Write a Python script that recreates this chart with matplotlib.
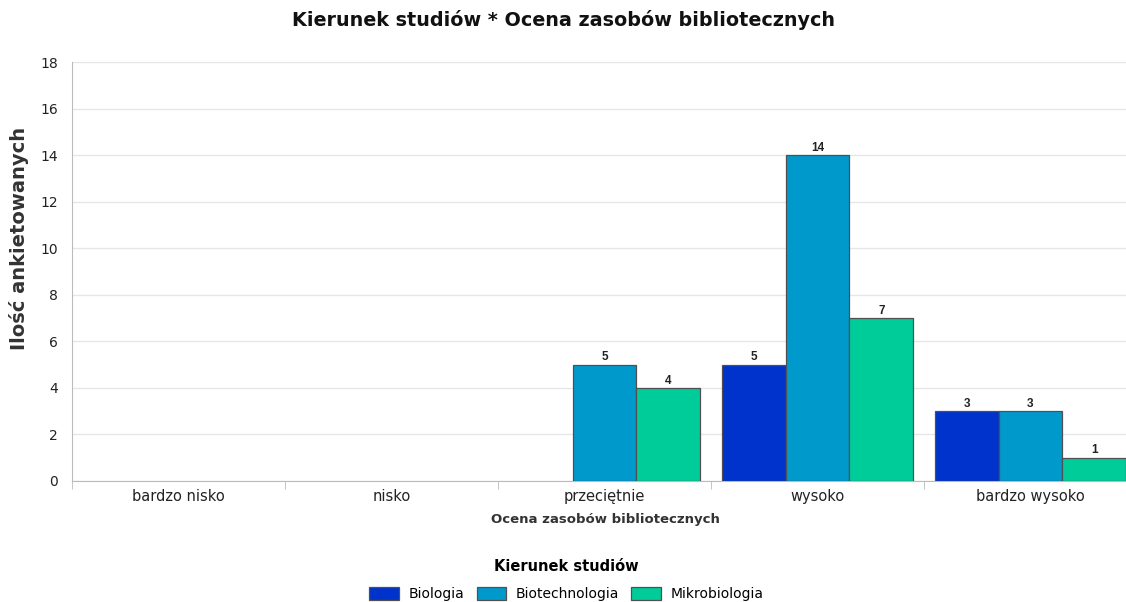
import numpy as np
import matplotlib
matplotlib.use("Agg")
import matplotlib.pyplot as plt
from matplotlib.patches import Patch

# data
categories = ["bardzo nisko", "nisko", "przeciętnie", "wysoko", "bardzo wysoko"]
series_names = ["Biologia", "Biotechnologia", "Mikrobiologia"]
biologia = [0, 0, 0, 5, 3]
biotechnologia = [0, 0, 5, 14, 3]
mikrobiologia = [0, 0, 4, 7, 1]
colors = ["#0033cc", "#0099cc", "#00cc99"]

title = "Kierunek studiów * Ocena zasobów bibliotecznych"
x_label = "Ocena zasobów bibliotecznych"
y_label = "Ilość ankietowanych"
legend_title = "Kierunek studiów"

edge = "#505050"
fig = plt.figure(figsize=(11.26, 6.02), dpi=100)
ax = fig.add_axes([72 / 1126, 1 - 481 / 602, (1126 - 72) / 1126, (481 - 62) / 602])

x = np.arange(len(categories))
width = 0.3
all_series = [biologia, biotechnologia, mikrobiologia]
for i, (name, vals, col) in enumerate(zip(series_names, all_series, colors)):
    vals = np.array(vals)
    pos = x + (i - 1) * width
    lw = [0.9 if v > 0 else 0 for v in vals]
    bars = ax.bar(pos, vals, width, color=col, edgecolor=edge,
                  linewidth=lw, zorder=3)
    labels = [str(v) if v > 0 else "" for v in vals]
    ax.bar_label(bars, labels=labels, padding=1, fontsize=8.5,
                 fontweight="bold", color="#222222", family="Liberation Sans")

ax.set_yticks(range(0, 19, 2))
ax.set_xticks(x)
ax.set_xticklabels(categories)
ax.set_xticks(np.arange(-0.5, len(categories) - 1, 1.0), minor=True)
# the original plot area runs a bit past the right edge of the image
ax.set_xlim(-0.5, -0.5 + 1054 / 213)
ax.set_ylim(0, 18)
ax.tick_params(axis="x", which="major", length=0, pad=6, labelsize=10.5,
               labelcolor="#222222")
ax.tick_params(axis="x", which="minor", length=6, color="#bbbbbb")
ax.tick_params(axis="y", length=0, labelsize=10, labelcolor="#222222", pad=10)
ax.grid(axis="y", color="#e6e6e6", linewidth=1, zorder=0)
for s in ["top", "right"]:
    ax.spines[s].set_visible(False)
for s in ["left", "bottom"]:
    ax.spines[s].set_color("#bbbbbb")

ax.set_xlabel(x_label, fontsize=9.5, fontweight="bold", color="#333333",
              family="DejaVu Sans")
ax.xaxis.set_label_coords(0.506, -0.077)
ax.set_ylabel(y_label, fontsize=14, fontweight="bold", color="#333333",
              family="DejaVu Sans")
ax.yaxis.set_label_coords(-0.041, 0.578)
fig.suptitle(title, x=0.5, y=1 - 20 / 602, va="center", fontsize=13.8,
             fontweight="bold", family="DejaVu Sans", color="#111111")

handles = [Patch(facecolor=c, edgecolor=edge, linewidth=0.9) for c in colors]
leg = fig.legend(handles, series_names, loc="lower center",
                 bbox_to_anchor=(0.503, -0.019), ncol=3,
                 frameon=False, title=legend_title, fontsize=10,
                 handlelength=2.15, handleheight=1.05, columnspacing=0.9,
                 handletextpad=0.65, labelspacing=0.9,
                 title_fontproperties={"family": "DejaVu Sans",
                                       "weight": "bold", "size": 10.5})

fig.savefig("out.png", dpi=100)
